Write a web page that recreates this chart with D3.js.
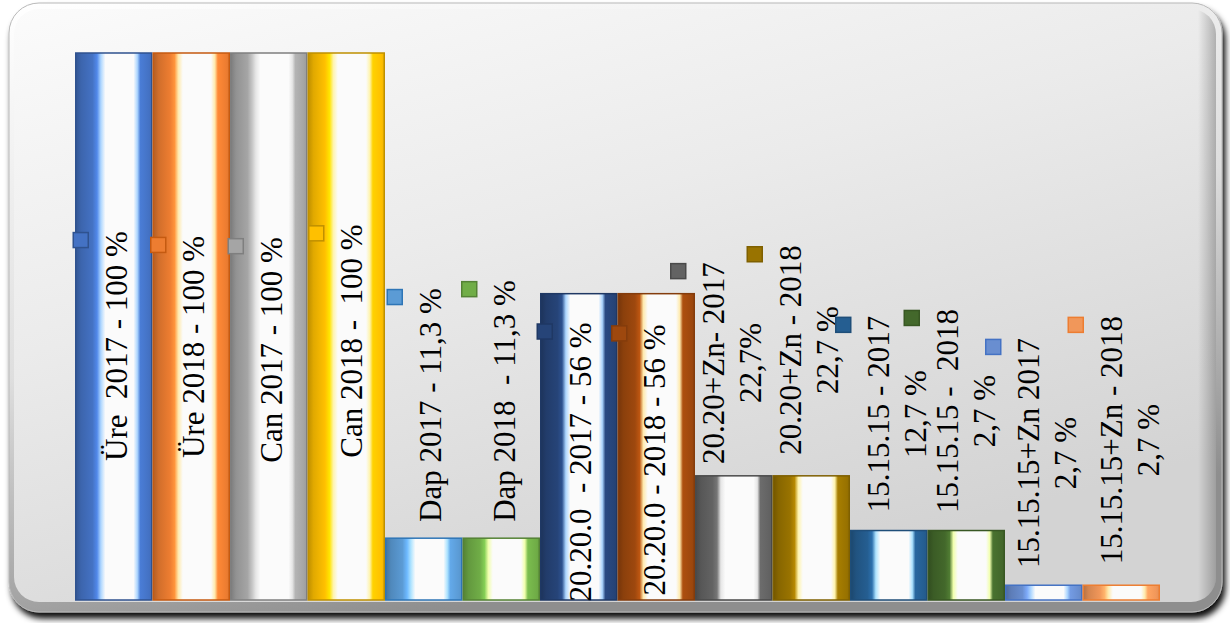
<!DOCTYPE html>
<html>
<head>
<meta charset="utf-8">
<script src="https://cdn.jsdelivr.net/npm/d3@7"></script>
<style>
  html, body { margin: 0; padding: 0; background: #ffffff; }
  svg { display: block; }
  text { font-family: "Liberation Serif", "Times New Roman", serif; white-space: pre; }
</style>
</head>
<body>
<svg id="chart" width="1230" height="623"></svg>
<script>
// Fertiliser products, by year
const products = ["Üre", "Üre", "Can", "Can", "Dap", "Dap", "20.20.0", "20.20.0",
                  "20.20+Zn", "20.20+Zn", "15.15.15", "15.15.15", "15.15.15+Zn", "15.15.15+Zn"];
const years = [2017, 2018, 2017, 2018, 2017, 2018, 2017, 2018, 2017, 2018, 2017, 2018, 2017, 2018];
// Share (%)
const shares = [100, 100, 100, 100, 11.3, 11.3, 56, 56, 22.7, 22.7, 12.7, 12.7, 2.7, 2.7];
// Data label text, one entry per line
const labelLines = [
  ["Üre  2017 - 100 %"],
  ["Üre 2018 - 100 %"],
  ["Can 2017 - 100 %"],
  ["Can 2018 -  100 %"],
  ["Dap 2017 - 11,3 %"],
  ["Dap 2018  - 11,3 %"],
  ["20.20.0  - 2017 - 56 %"],
  ["20.20.0 - 2018 - 56 %"],
  ["20.20+Zn- 2017", "22,7%"],
  ["20.20+Zn - 2018", "22,7 %"],
  ["15.15.15 - 2017", "12,7 %"],
  ["15.15.15 -  2018", "2,7 %"],
  ["15.15.15+Zn 2017", "2,7 %"],
  ["15.15.15+Zn - 2018", "2,7 %"]
];

// Office-style series palette and outline colours
const palette = ["#4472C4", "#ED7D31", "#A5A5A5", "#FFC000", "#5B9BD5", "#70AD47",
                 "#264478", "#9E480E", "#636363", "#997300", "#255E91", "#43682B",
                 "#698ED0", "#F1975A"];
const outline = ["#2F528F", "#C55A11", "#7F7F7F", "#BF9000", "#2E75B6", "#548235",
                 "#1F3864", "#843C0C", "#4A4A4A", "#7F6000", "#1F4E79", "#385723",
                 "#4472C4", "#ED7D31"];

// Manual label placement: horizontal nudge from bar centre and vertical centre
const labelNudge = [3, 3, 3, 6, 7, 4, 2, -1, -1, -2, 9, 0, 4, 9];
const labelCenterY = [346, 347, 350, 341, 405, 401, 462, 460, 363, 350, 414, 411, 453, 440];

const W = 1230, H = 623;
const plot = { left: 75, right: 1160, top: 53, bottom: 600 };

const svg = d3.select("#chart");
const defs = svg.append("defs");

// ---- chart frame ----
const shadow = defs.append("filter").attr("id", "frameShadow")
  .attr("x", "-5%").attr("y", "-5%").attr("width", "110%").attr("height", "115%");
shadow.append("feDropShadow").attr("dx", 3).attr("dy", 6)
  .attr("stdDeviation", 3).attr("flood-color", "#000").attr("flood-opacity", 0.95);

const bevel = defs.append("linearGradient").attr("id", "bevel")
  .attr("x1", 0).attr("y1", 0).attr("x2", 0.35).attr("y2", 1);
bevel.append("stop").attr("offset", 0).attr("stop-color", "#ffffff");
bevel.append("stop").attr("offset", 0.55).attr("stop-color", "#dedede");
bevel.append("stop").attr("offset", 1).attr("stop-color", "#8e8e8e");

const face = defs.append("linearGradient").attr("id", "face")
  .attr("x1", 0).attr("y1", 0).attr("x2", 0.55).attr("y2", 1);
face.append("stop").attr("offset", 0).attr("stop-color", "#fbfbfb");
face.append("stop").attr("offset", 0.45).attr("stop-color", "#ebebeb");
face.append("stop").attr("offset", 1).attr("stop-color", "#d3d3d3");

const rightShade = defs.append("linearGradient").attr("id", "rightShade")
  .attr("x1", 0).attr("y1", 0).attr("x2", 1).attr("y2", 0);
rightShade.append("stop").attr("offset", 0).attr("stop-color", "#000").attr("stop-opacity", 0);
rightShade.append("stop").attr("offset", 0.985).attr("stop-color", "#000").attr("stop-opacity", 0);
rightShade.append("stop").attr("offset", 1).attr("stop-color", "#000").attr("stop-opacity", 0.25);

svg.append("rect")
  .attr("x", 9).attr("y", 3).attr("width", 1213).attr("height", 609)
  .attr("rx", 30).attr("ry", 30)
  .attr("fill", "url(#bevel)").attr("stroke", "#b8b8b8").attr("stroke-width", 1)
  .attr("filter", "url(#frameShadow)");
svg.append("rect")
  .attr("x", 14).attr("y", 9).attr("width", 1202).attr("height", 593)
  .attr("rx", 25).attr("ry", 25)
  .attr("fill", "url(#face)");
svg.append("rect")
  .attr("x", 14).attr("y", 9).attr("width", 1202).attr("height", 593)
  .attr("rx", 25).attr("ry", 25)
  .attr("fill", "url(#rightShade)");

// ---- scales ----
const ids = products.map((p, i) => p + " " + years[i]);
const x = d3.scaleBand().domain(ids).range([plot.left, plot.right]).padding(0);
const y = d3.scaleLinear().domain([0, 100]).range([plot.bottom, plot.top]);

// cylinder-style gradient for each bar
function highlight(c) {
  const h = d3.hsl(c);
  if (isNaN(h.h) || h.s < 0.05) return d3.hsl(0, 0, 0.9).formatHex();
  let hue = h.h;
  if (hue < 120) hue = hue + (56 - hue) * 0.65;
  else hue = hue - 8;
  return d3.hsl(hue, 1, 0.84).formatHex();
}
palette.forEach((c, i) => {
  const base = d3.color(c);
  const g = defs.append("linearGradient").attr("id", "bar" + i)
    .attr("x1", 0).attr("y1", 0).attr("x2", 1).attr("y2", 0);
  const tint = highlight(c);
  const stops = [
    [0, base.darker(0.8)],
    [0.07, base.darker(0.35)],
    [0.22, base],
    [0.28, base.brighter(0.5)],
    [0.33, tint],
    [0.39, "#fbfbfb"],
    [0.76, "#fbfbfb"],
    [0.81, tint],
    [0.85, base.brighter(0.25)],
    [0.96, base],
    [1, base.darker(0.15)]
  ];
  stops.forEach(([o, col]) => g.append("stop").attr("offset", o).attr("stop-color", String(col)));
});

// ---- bars ----
svg.append("g").selectAll("rect")
  .data(shares)
  .join("rect")
  .attr("x", (d, i) => x(ids[i]) + 0.75)
  .attr("y", d => y(d))
  .attr("width", x.bandwidth() - 1.5)
  .attr("height", d => y(0) - y(d))
  .attr("fill", (d, i) => `url(#bar${i})`)
  .attr("stroke", (d, i) => outline[i])
  .attr("stroke-width", 1.5);

// ---- data labels (rotated) with legend keys ----
const fontSize = 31, lineGap = 37, capHalf = 10, keySize = 15;
const labels = svg.append("g");
labelLines.forEach((lines, i) => {
  const n = lines.length;
  const cx = x(ids[i]) + x.bandwidth() / 2 + labelNudge[i];
  const cy = labelCenterY[i];
  const tx = cx - (n - 1) / 2 * lineGap + capHalf;
  const t = labels.append("text")
    .attr("transform", `translate(${tx},${cy}) rotate(-90)`)
    .attr("text-anchor", "middle")
    .attr("font-size", fontSize)
    .attr("fill", "#000");
  lines.forEach((ln, k) => {
    t.append("tspan").attr("x", 0).attr("dy", k === 0 ? 0 : lineGap).text(ln);
  });
  let maxLen = 0;
  t.selectAll("tspan").each(function () {
    maxLen = Math.max(maxLen, this.getComputedTextLength());
  });
  const keyX = tx - 2 * capHalf - 26;
  const keyY = cy - maxLen / 2 + 9;
  labels.append("rect")
    .attr("x", keyX - keySize / 2).attr("y", keyY - keySize / 2)
    .attr("width", keySize).attr("height", keySize)
    .attr("fill", palette[i])
    .attr("stroke", outline[i])
    .attr("stroke-width", 1.5);
});
</script>
</body>
</html>
